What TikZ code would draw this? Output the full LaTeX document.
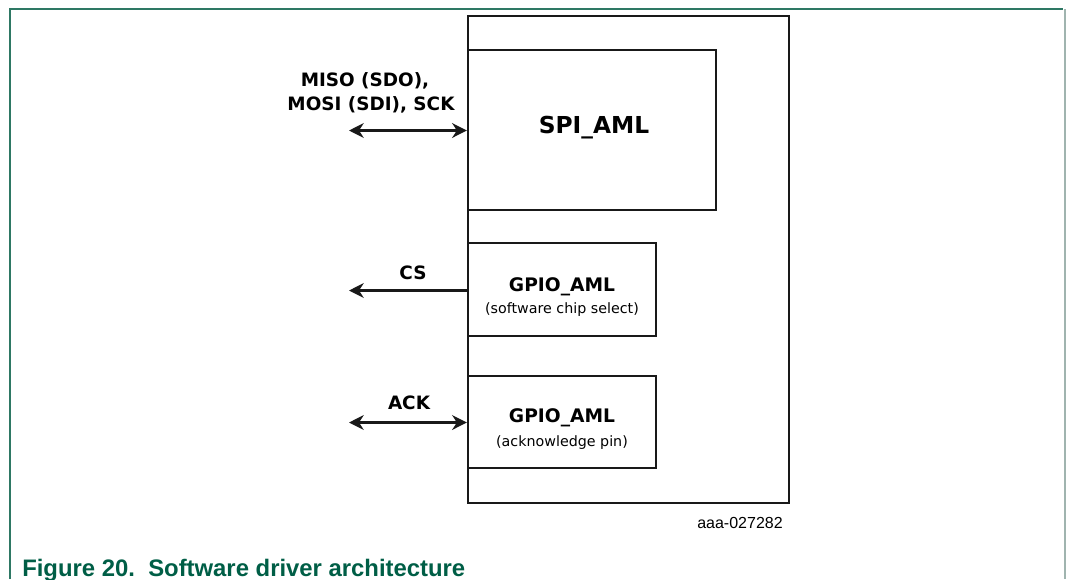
\documentclass[tikz,border=0pt]{standalone}
\usepackage{fontspec}
\setmainfont{DejaVu Sans}
\newfontfamily\capfont{Liberation Sans}
\usetikzlibrary{arrows.meta,fit}
\definecolor{frameteal}{RGB}{46,120,100}
\definecolor{framegray}{RGB}{160,180,175}
\definecolor{captiongreen}{RGB}{0,94,70}
\definecolor{boxline}{RGB}{25,25,25}
\tikzset{
  blk/.style={draw=boxline, line width=1.7pt, inner sep=0pt},
  lbl/.style={font=\bfseries\fontsize{13.8}{15}\selectfont, inner sep=0pt},
  ttl/.style={font=\bfseries\fontsize{14}{16}\selectfont, inner sep=0pt},
  sub/.style={font=\fontsize{10.7}{12}\selectfont, inner sep=0pt},
  conn/.style={draw=boxline, line width=1.9pt},
  tip/.tip={Stealth[length=11pt,width=11pt,inset=3.5pt]},
}
\begin{document}
\begin{tikzpicture}[x=0.75pt,y=-0.75pt]
\useasboundingbox (0,0) rectangle (1066,579);
% page frame
\draw[frameteal, line width=1.5pt] (9.5,579) -- (9.5,9) -- (1063,9);
\draw[framegray, line width=1.5pt] (1064.5,9) -- (1064.5,579);
% boxes
\node[blk, fit={(468,16) (789,503)}] (outer) {};
\node[blk, fit={(468,50) (716,210)}] (spi) {};
\node[blk, fit={(468,243) (656,336)}] (gpa) {};
\node[blk, fit={(468,376) (656,468)}] (gpb) {};
% box texts
\node[ttl, font=\bfseries\fontsize{17.5}{19}\selectfont] (spit) at (594,128) {SPI\_AML};
\node[ttl] (gpat) at (562,287) {GPIO\_AML};
\node[sub] (gpas) at (562,310) {(software chip select)};
\node[ttl] (gpbt) at (562,418) {GPIO\_AML};
\node[sub] (gpbs) at (562,443) {(acknowledge pin)};
% connectors
\coordinate (misoL) at (349,130.5);
\coordinate (csL) at (349,290.5);
\coordinate (ackL) at (349,422.5);
\draw[conn, tip-tip] (misoL) -- (spi.west |- misoL);
\draw[conn, -tip] (gpa.west |- csL) -- (csL);
\draw[conn, tip-tip] (ackL) -- (gpb.west |- ackL);
% labels
\node[lbl] (miso1) at (365,81) {MISO (SDO),};
\node[lbl] (miso2) at (371,105) {MOSI (SDI), SCK};
\node[lbl] (cs) at (413,273) {CS};
\node[lbl] (ack) at (409,403) {ACK};
% id
\node[inner sep=0pt, font=\capfont\fontsize{12}{14}\selectfont] (aid) at (740,523) {aaa-027282};
% caption
\node[anchor=base west, inner sep=0pt, text=captiongreen, font=\capfont\bfseries\fontsize{17.9}{20}\selectfont] (cap) at (22,576) {Figure 20.\ \ Software driver architecture};
\end{tikzpicture}
\end{document}
